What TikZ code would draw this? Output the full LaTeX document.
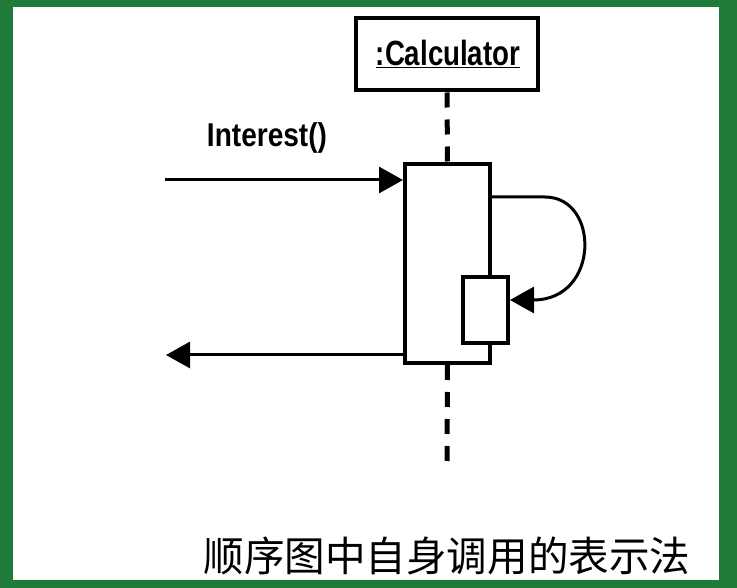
\documentclass[tikz,border=0pt]{standalone}
\usepackage{fontspec}
\setmainfont{Liberation Sans}
\newfontfamily\cjk{Noto Sans CJK SC}
\usetikzlibrary{arrows.meta}
\definecolor{frame}{HTML}{1E7B3A}
\tikzset{
  boxline/.style={draw=black, line width=4pt, fill=white, inner sep=0pt},
  msg/.style={line width=3pt, -{Triangle[length=24pt,width=26pt]}},
  lifeline/.style={line width=5pt, dash pattern=on 15pt off 12pt},
}
\begin{document}
\begin{tikzpicture}[x=1pt,y=-1pt]
\useasboundingbox (0,0) rectangle (737,588);
\fill[frame] (0,0) rectangle (737,588);
\fill[white] (13,7) rectangle (719,580);
% lifeline
\node[boxline, minimum width=182pt, minimum height=72pt] (calc) at (447,54.5) {};
\node[boxline, minimum width=85pt, minimum height=199pt] (act) at (447.5,263.5) {};
\coordinate (lifeend) at (447,472);
\draw[lifeline] (calc.south) -- (act.north);
\draw[lifeline] (act.south) -- (lifeend);
\node[boxline, minimum width=182pt, minimum height=72pt] (calc) at (447,54.5) {};
\node[font=\bfseries\fontsize{35}{35}\selectfont, inner sep=0pt, xscale=0.79] (calctext) at (448,54) {\underline{:Calculator}};
\node[boxline, minimum width=85pt, minimum height=199pt] (act) at (447.5,263.5) {};
\node[boxline, minimum width=45pt, minimum height=66pt] (nest) at (485.5,310) {};
% incoming message
\coordinate (in) at (165,180);
\draw[msg] (in) -- (act.west |- in);
\node[font=\bfseries\fontsize{33}{33}\selectfont, inner sep=0pt, xscale=0.85] (lbl) at (267,138) {Interest()};
% return message
\coordinate (ret) at (166,355);
\draw[msg] (act.west |- ret) -- (ret);
% self call
\coordinate (sc) at (545,197);
\coordinate (selfend) at (510,300);
\draw[msg] (act.east |- sc) -- (sc) .. controls (600,197) and (600,300) .. (nest.east |- selfend);
% caption
\node[font=\cjk\fontsize{41}{41}\selectfont, inner sep=0pt, xscale=0.99] (cap) at (447,556) {顺序图中自身调用的表示法};
\end{tikzpicture}
\end{document}
